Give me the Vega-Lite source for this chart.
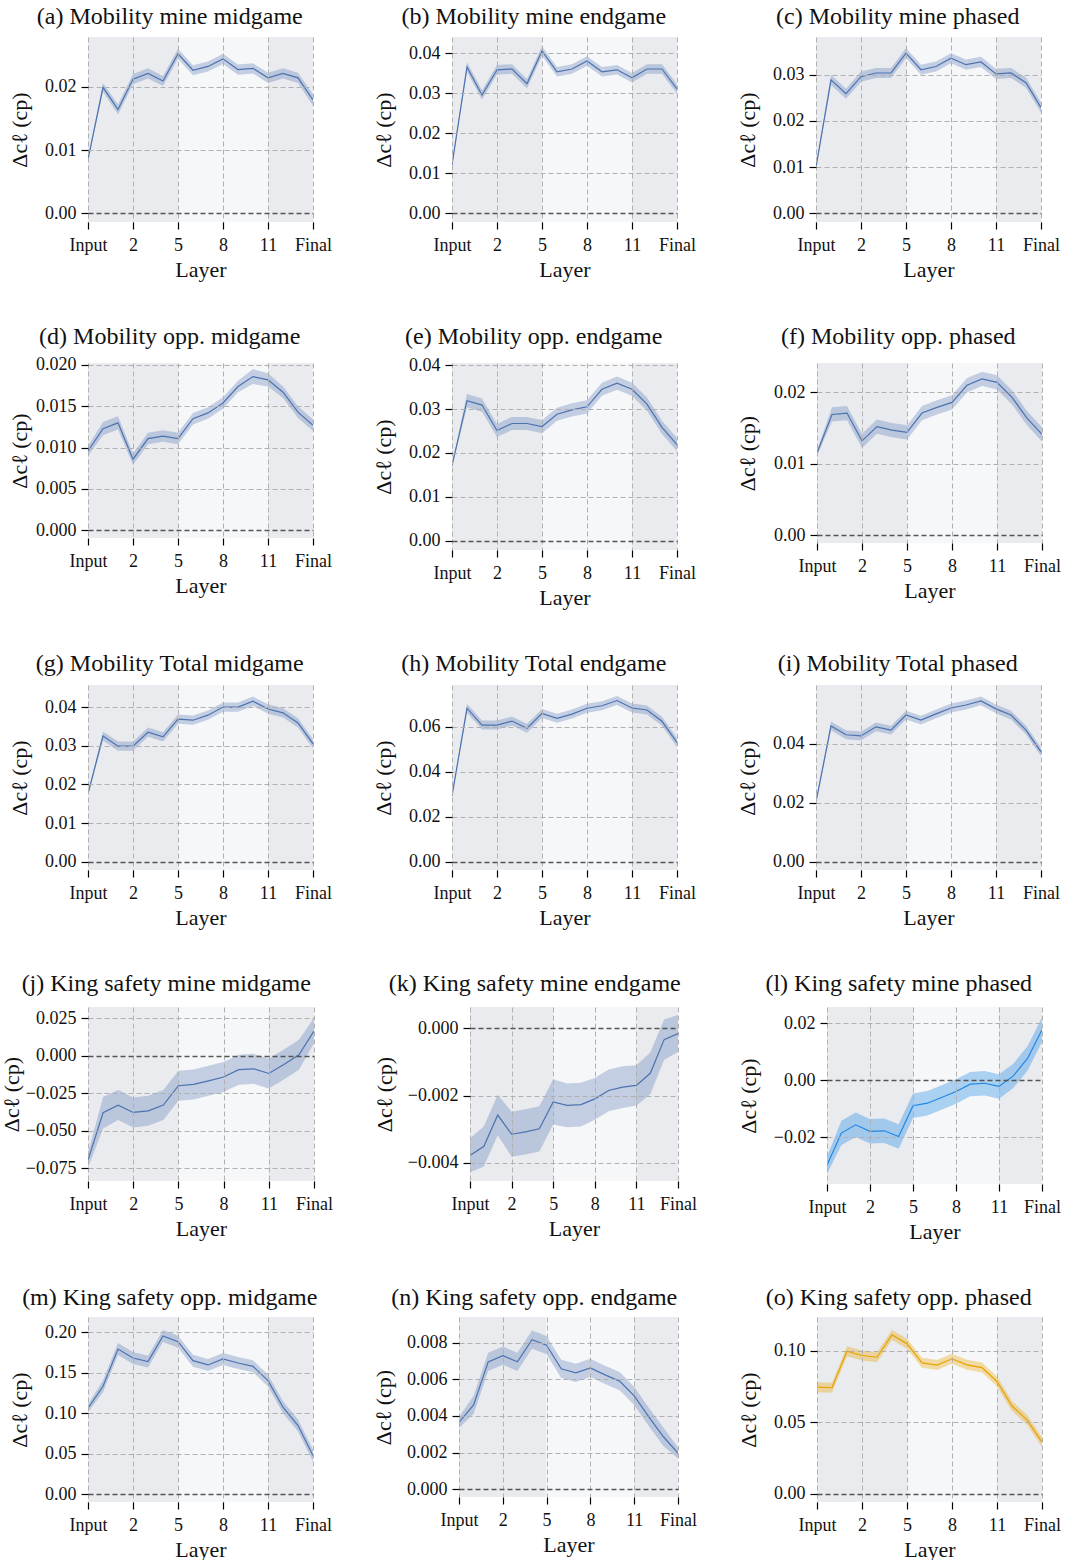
{
"$schema":"https://vega.github.io/schema/vega-lite/v6.json",
"background":"white",
"padding":{"left":0,"top":5,"right":0,"bottom":0},
"datasets":{
"regions":[{"start":0,"end":6,"shade":"dark"},{"start":6,"end":12,"shade":"light"},{"start":12,"end":15,"shade":"dark"}],
"series":[
{"p":"a","x":0,"m":0.00853,"lo":0.00833,"hi":0.00873},{"p":"a","x":1,"m":0.0199,"lo":0.0192,"hi":0.0206},{"p":"a","x":2,"m":0.0164,"lo":0.0156,"hi":0.0172},{"p":"a","x":3,"m":0.0212,"lo":0.0204,"hi":0.022},{"p":"a","x":4,"m":0.0221,"lo":0.0213,"hi":0.0229},{"p":"a","x":5,"m":0.0209,"lo":0.0201,"hi":0.0217},{"p":"a","x":6,"m":0.0252,"lo":0.0244,"hi":0.026},{"p":"a","x":7,"m":0.0226,"lo":0.0218,"hi":0.0234},{"p":"a","x":8,"m":0.0232,"lo":0.0224,"hi":0.024},{"p":"a","x":9,"m":0.0244,"lo":0.0236,"hi":0.0252},{"p":"a","x":10,"m":0.0227,"lo":0.0219,"hi":0.0235},{"p":"a","x":11,"m":0.0229,"lo":0.0221,"hi":0.0237},{"p":"a","x":12,"m":0.0214,"lo":0.0206,"hi":0.0222},{"p":"a","x":13,"m":0.0221,"lo":0.0213,"hi":0.0229},{"p":"a","x":14,"m":0.0214,"lo":0.0206,"hi":0.0222},{"p":"a","x":15,"m":0.0179,"lo":0.017,"hi":0.0188},
{"p":"b","x":0,"m":0.012,"lo":0.0118,"hi":0.0122},{"p":"b","x":1,"m":0.0365,"lo":0.0353,"hi":0.0377},{"p":"b","x":2,"m":0.0295,"lo":0.0283,"hi":0.0307},{"p":"b","x":3,"m":0.0358,"lo":0.0346,"hi":0.037},{"p":"b","x":4,"m":0.036,"lo":0.0348,"hi":0.0372},{"p":"b","x":5,"m":0.0323,"lo":0.0311,"hi":0.0335},{"p":"b","x":6,"m":0.0405,"lo":0.0393,"hi":0.0417},{"p":"b","x":7,"m":0.0353,"lo":0.0341,"hi":0.0365},{"p":"b","x":8,"m":0.036,"lo":0.0348,"hi":0.0372},{"p":"b","x":9,"m":0.038,"lo":0.0368,"hi":0.0392},{"p":"b","x":10,"m":0.0353,"lo":0.0341,"hi":0.0365},{"p":"b","x":11,"m":0.0358,"lo":0.0346,"hi":0.037},{"p":"b","x":12,"m":0.0338,"lo":0.0326,"hi":0.035},{"p":"b","x":13,"m":0.036,"lo":0.0348,"hi":0.0372},{"p":"b","x":14,"m":0.036,"lo":0.0348,"hi":0.0372},{"p":"b","x":15,"m":0.031,"lo":0.0298,"hi":0.0322},
{"p":"c","x":0,"m":0.01,"lo":0.0098,"hi":0.0102},{"p":"c","x":1,"m":0.0289,"lo":0.0278,"hi":0.03},{"p":"c","x":2,"m":0.0259,"lo":0.0248,"hi":0.027},{"p":"c","x":3,"m":0.0296,"lo":0.0285,"hi":0.0307},{"p":"c","x":4,"m":0.0304,"lo":0.0293,"hi":0.0315},{"p":"c","x":5,"m":0.0304,"lo":0.0293,"hi":0.0315},{"p":"c","x":6,"m":0.0347,"lo":0.0336,"hi":0.0358},{"p":"c","x":7,"m":0.0311,"lo":0.03,"hi":0.0322},{"p":"c","x":8,"m":0.0318,"lo":0.0307,"hi":0.0329},{"p":"c","x":9,"m":0.0336,"lo":0.0325,"hi":0.0347},{"p":"c","x":10,"m":0.0322,"lo":0.0311,"hi":0.0333},{"p":"c","x":11,"m":0.0328,"lo":0.0317,"hi":0.0339},{"p":"c","x":12,"m":0.0302,"lo":0.0291,"hi":0.0313},{"p":"c","x":13,"m":0.0304,"lo":0.0293,"hi":0.0315},{"p":"c","x":14,"m":0.0283,"lo":0.0272,"hi":0.0294},{"p":"c","x":15,"m":0.0229,"lo":0.0218,"hi":0.024},
{"p":"d","x":0,"m":0.0096,"lo":0.009,"hi":0.0102},{"p":"d","x":1,"m":0.0123,"lo":0.0115,"hi":0.0131},{"p":"d","x":2,"m":0.013,"lo":0.0122,"hi":0.0138},{"p":"d","x":3,"m":0.0086,"lo":0.0079,"hi":0.0093},{"p":"d","x":4,"m":0.0111,"lo":0.0104,"hi":0.0118},{"p":"d","x":5,"m":0.0114,"lo":0.0107,"hi":0.0121},{"p":"d","x":6,"m":0.0111,"lo":0.0104,"hi":0.0118},{"p":"d","x":7,"m":0.0135,"lo":0.0128,"hi":0.0142},{"p":"d","x":8,"m":0.0142,"lo":0.0135,"hi":0.0149},{"p":"d","x":9,"m":0.0154,"lo":0.0147,"hi":0.0161},{"p":"d","x":10,"m":0.0174,"lo":0.0167,"hi":0.0181},{"p":"d","x":11,"m":0.0186,"lo":0.0177,"hi":0.0195},{"p":"d","x":12,"m":0.0182,"lo":0.0174,"hi":0.019},{"p":"d","x":13,"m":0.0167,"lo":0.016,"hi":0.0174},{"p":"d","x":14,"m":0.0143,"lo":0.0136,"hi":0.015},{"p":"d","x":15,"m":0.0127,"lo":0.012,"hi":0.0134},
{"p":"e","x":0,"m":0.0171,"lo":0.0168,"hi":0.0174},{"p":"e","x":1,"m":0.0319,"lo":0.0304,"hi":0.0334},{"p":"e","x":2,"m":0.0309,"lo":0.0294,"hi":0.0324},{"p":"e","x":3,"m":0.0251,"lo":0.0236,"hi":0.0266},{"p":"e","x":4,"m":0.0267,"lo":0.0252,"hi":0.0282},{"p":"e","x":5,"m":0.0267,"lo":0.0252,"hi":0.0282},{"p":"e","x":6,"m":0.026,"lo":0.0245,"hi":0.0275},{"p":"e","x":7,"m":0.0288,"lo":0.0273,"hi":0.0303},{"p":"e","x":8,"m":0.0298,"lo":0.0283,"hi":0.0313},{"p":"e","x":9,"m":0.0305,"lo":0.029,"hi":0.032},{"p":"e","x":10,"m":0.0345,"lo":0.033,"hi":0.036},{"p":"e","x":11,"m":0.0359,"lo":0.0344,"hi":0.0374},{"p":"e","x":12,"m":0.0345,"lo":0.033,"hi":0.036},{"p":"e","x":13,"m":0.0311,"lo":0.0296,"hi":0.0326},{"p":"e","x":14,"m":0.0258,"lo":0.0243,"hi":0.0273},{"p":"e","x":15,"m":0.0219,"lo":0.0204,"hi":0.0234},
{"p":"f","x":0,"m":0.0115,"lo":0.0111,"hi":0.0119},{"p":"f","x":1,"m":0.0169,"lo":0.0159,"hi":0.0179},{"p":"f","x":2,"m":0.0171,"lo":0.0161,"hi":0.0181},{"p":"f","x":3,"m":0.0132,"lo":0.0122,"hi":0.0142},{"p":"f","x":4,"m":0.0152,"lo":0.0142,"hi":0.0162},{"p":"f","x":5,"m":0.0147,"lo":0.0137,"hi":0.0157},{"p":"f","x":6,"m":0.0144,"lo":0.0134,"hi":0.0154},{"p":"f","x":7,"m":0.0171,"lo":0.0161,"hi":0.0181},{"p":"f","x":8,"m":0.0179,"lo":0.0169,"hi":0.0189},{"p":"f","x":9,"m":0.0186,"lo":0.0176,"hi":0.0196},{"p":"f","x":10,"m":0.021,"lo":0.02,"hi":0.022},{"p":"f","x":11,"m":0.0219,"lo":0.0209,"hi":0.0229},{"p":"f","x":12,"m":0.0214,"lo":0.0204,"hi":0.0224},{"p":"f","x":13,"m":0.0193,"lo":0.0183,"hi":0.0203},{"p":"f","x":14,"m":0.0164,"lo":0.0154,"hi":0.0174},{"p":"f","x":15,"m":0.0141,"lo":0.0131,"hi":0.0151},
{"p":"g","x":0,"m":0.0176,"lo":0.0174,"hi":0.0178},{"p":"g","x":1,"m":0.0325,"lo":0.0313,"hi":0.0337},{"p":"g","x":2,"m":0.0299,"lo":0.0287,"hi":0.0311},{"p":"g","x":3,"m":0.0299,"lo":0.0287,"hi":0.0311},{"p":"g","x":4,"m":0.0335,"lo":0.0323,"hi":0.0347},{"p":"g","x":5,"m":0.0323,"lo":0.0311,"hi":0.0335},{"p":"g","x":6,"m":0.0369,"lo":0.0357,"hi":0.0381},{"p":"g","x":7,"m":0.0366,"lo":0.0354,"hi":0.0378},{"p":"g","x":8,"m":0.0379,"lo":0.0367,"hi":0.0391},{"p":"g","x":9,"m":0.04,"lo":0.0388,"hi":0.0412},{"p":"g","x":10,"m":0.04,"lo":0.0388,"hi":0.0412},{"p":"g","x":11,"m":0.0415,"lo":0.0403,"hi":0.0427},{"p":"g","x":12,"m":0.0395,"lo":0.0383,"hi":0.0407},{"p":"g","x":13,"m":0.0385,"lo":0.0373,"hi":0.0397},{"p":"g","x":14,"m":0.0359,"lo":0.0347,"hi":0.0371},{"p":"g","x":15,"m":0.0305,"lo":0.0293,"hi":0.0317},
{"p":"h","x":0,"m":0.0293,"lo":0.029,"hi":0.0296},{"p":"h","x":1,"m":0.0682,"lo":0.0662,"hi":0.0702},{"p":"h","x":2,"m":0.0607,"lo":0.0587,"hi":0.0627},{"p":"h","x":3,"m":0.0607,"lo":0.0587,"hi":0.0627},{"p":"h","x":4,"m":0.0625,"lo":0.0605,"hi":0.0645},{"p":"h","x":5,"m":0.0593,"lo":0.0573,"hi":0.0613},{"p":"h","x":6,"m":0.0659,"lo":0.0639,"hi":0.0679},{"p":"h","x":7,"m":0.0637,"lo":0.0617,"hi":0.0657},{"p":"h","x":8,"m":0.0656,"lo":0.0636,"hi":0.0676},{"p":"h","x":9,"m":0.0682,"lo":0.0662,"hi":0.0702},{"p":"h","x":10,"m":0.0693,"lo":0.0673,"hi":0.0713},{"p":"h","x":11,"m":0.0716,"lo":0.0696,"hi":0.0736},{"p":"h","x":12,"m":0.0683,"lo":0.0663,"hi":0.0703},{"p":"h","x":13,"m":0.0674,"lo":0.0654,"hi":0.0694},{"p":"h","x":14,"m":0.0624,"lo":0.0604,"hi":0.0644},{"p":"h","x":15,"m":0.053,"lo":0.051,"hi":0.055},
{"p":"i","x":0,"m":0.0203,"lo":0.02,"hi":0.0206},{"p":"i","x":1,"m":0.0461,"lo":0.0446,"hi":0.0476},{"p":"i","x":2,"m":0.0431,"lo":0.0416,"hi":0.0446},{"p":"i","x":3,"m":0.0427,"lo":0.0412,"hi":0.0442},{"p":"i","x":4,"m":0.0458,"lo":0.0443,"hi":0.0473},{"p":"i","x":5,"m":0.0447,"lo":0.0432,"hi":0.0462},{"p":"i","x":6,"m":0.0498,"lo":0.0483,"hi":0.0513},{"p":"i","x":7,"m":0.0481,"lo":0.0466,"hi":0.0496},{"p":"i","x":8,"m":0.0502,"lo":0.0487,"hi":0.0517},{"p":"i","x":9,"m":0.0522,"lo":0.0507,"hi":0.0537},{"p":"i","x":10,"m":0.0532,"lo":0.0517,"hi":0.0547},{"p":"i","x":11,"m":0.0546,"lo":0.0531,"hi":0.0561},{"p":"i","x":12,"m":0.0519,"lo":0.0504,"hi":0.0534},{"p":"i","x":13,"m":0.0498,"lo":0.0483,"hi":0.0513},{"p":"i","x":14,"m":0.0447,"lo":0.0432,"hi":0.0462},{"p":"i","x":15,"m":0.0373,"lo":0.0358,"hi":0.0388},
{"p":"j","x":0,"m":-0.0696,"lo":-0.0746,"hi":-0.0646},{"p":"j","x":1,"m":-0.038,"lo":-0.0485,"hi":-0.0275},{"p":"j","x":2,"m":-0.0329,"lo":-0.0429,"hi":-0.0229},{"p":"j","x":3,"m":-0.0378,"lo":-0.0478,"hi":-0.0278},{"p":"j","x":4,"m":-0.0367,"lo":-0.0467,"hi":-0.0267},{"p":"j","x":5,"m":-0.0329,"lo":-0.0429,"hi":-0.0229},{"p":"j","x":6,"m":-0.02,"lo":-0.03,"hi":-0.01},{"p":"j","x":7,"m":-0.0191,"lo":-0.0291,"hi":-0.0091},{"p":"j","x":8,"m":-0.0167,"lo":-0.0267,"hi":-0.0067},{"p":"j","x":9,"m":-0.0142,"lo":-0.0242,"hi":-0.0042},{"p":"j","x":10,"m":-0.0093,"lo":-0.0193,"hi":0.0007},{"p":"j","x":11,"m":-0.0087,"lo":-0.0187,"hi":0.0013},{"p":"j","x":12,"m":-0.0118,"lo":-0.0218,"hi":-0.0018},{"p":"j","x":13,"m":-0.0058,"lo":-0.0158,"hi":0.0042},{"p":"j","x":14,"m":0.0007,"lo":-0.0093,"hi":0.0107},{"p":"j","x":15,"m":0.0164,"lo":0.0084,"hi":0.0254},
{"p":"k","x":0,"m":-0.00378,"lo":-0.00428,"hi":-0.00328},{"p":"k","x":1,"m":-0.00351,"lo":-0.00411,"hi":-0.00291},{"p":"k","x":2,"m":-0.00258,"lo":-0.00318,"hi":-0.00198},{"p":"k","x":3,"m":-0.00315,"lo":-0.00382,"hi":-0.00248},{"p":"k","x":4,"m":-0.00308,"lo":-0.00375,"hi":-0.00241},{"p":"k","x":5,"m":-0.00299,"lo":-0.00366,"hi":-0.00232},{"p":"k","x":6,"m":-0.00219,"lo":-0.00286,"hi":-0.00152},{"p":"k","x":7,"m":-0.00229,"lo":-0.00294,"hi":-0.00164},{"p":"k","x":8,"m":-0.00227,"lo":-0.00292,"hi":-0.00162},{"p":"k","x":9,"m":-0.0021,"lo":-0.00272,"hi":-0.00148},{"p":"k","x":10,"m":-0.00185,"lo":-0.00247,"hi":-0.00123},{"p":"k","x":11,"m":-0.00175,"lo":-0.00237,"hi":-0.00113},{"p":"k","x":12,"m":-0.0017,"lo":-0.0023,"hi":-0.0011},{"p":"k","x":13,"m":-0.00134,"lo":-0.00196,"hi":-0.00072},{"p":"k","x":14,"m":-0.00034,"lo":-0.00094,"hi":0.00026},{"p":"k","x":15,"m":-0.00016,"lo":-0.00071,"hi":0.00039},
{"p":"l","x":0,"m":-0.0299,"lo":-0.0329,"hi":-0.0269},{"p":"l","x":1,"m":-0.0186,"lo":-0.0229,"hi":-0.0143},{"p":"l","x":2,"m":-0.0157,"lo":-0.02,"hi":-0.0114},{"p":"l","x":3,"m":-0.018,"lo":-0.0223,"hi":-0.0137},{"p":"l","x":4,"m":-0.0178,"lo":-0.0221,"hi":-0.0135},{"p":"l","x":5,"m":-0.0198,"lo":-0.0241,"hi":-0.0155},{"p":"l","x":6,"m":-0.009,"lo":-0.0133,"hi":-0.0047},{"p":"l","x":7,"m":-0.0081,"lo":-0.0124,"hi":-0.0038},{"p":"l","x":8,"m":-0.0061,"lo":-0.0104,"hi":-0.0018},{"p":"l","x":9,"m":-0.004,"lo":-0.0083,"hi":0.0003},{"p":"l","x":10,"m":-0.0014,"lo":-0.0057,"hi":0.0029},{"p":"l","x":11,"m":-0.0011,"lo":-0.0054,"hi":0.0032},{"p":"l","x":12,"m":-0.0022,"lo":-0.0065,"hi":0.0021},{"p":"l","x":13,"m":0.0015,"lo":-0.0028,"hi":0.0058},{"p":"l","x":14,"m":0.0077,"lo":0.0034,"hi":0.012},{"p":"l","x":15,"m":0.0177,"lo":0.0134,"hi":0.022},
{"p":"m","x":0,"m":0.1062,"lo":0.1012,"hi":0.1112},{"p":"m","x":1,"m":0.1333,"lo":0.1259,"hi":0.1407},{"p":"m","x":2,"m":0.1794,"lo":0.172,"hi":0.1868},{"p":"m","x":3,"m":0.1683,"lo":0.1609,"hi":0.1757},{"p":"m","x":4,"m":0.1638,"lo":0.1564,"hi":0.1712},{"p":"m","x":5,"m":0.1955,"lo":0.1881,"hi":0.2029},{"p":"m","x":6,"m":0.1885,"lo":0.1811,"hi":0.1959},{"p":"m","x":7,"m":0.165,"lo":0.1576,"hi":0.1724},{"p":"m","x":8,"m":0.1597,"lo":0.1523,"hi":0.1671},{"p":"m","x":9,"m":0.1671,"lo":0.1597,"hi":0.1745},{"p":"m","x":10,"m":0.1621,"lo":0.1547,"hi":0.1695},{"p":"m","x":11,"m":0.158,"lo":0.1506,"hi":0.1654},{"p":"m","x":12,"m":0.1403,"lo":0.1329,"hi":0.1477},{"p":"m","x":13,"m":0.1074,"lo":0.1,"hi":0.1148},{"p":"m","x":14,"m":0.0848,"lo":0.0774,"hi":0.0922},{"p":"m","x":15,"m":0.0477,"lo":0.0403,"hi":0.0551},
{"p":"n","x":0,"m":0.00364,"lo":0.00334,"hi":0.00394},{"p":"n","x":1,"m":0.0046,"lo":0.0041,"hi":0.0051},{"p":"n","x":2,"m":0.00695,"lo":0.00645,"hi":0.00745},{"p":"n","x":3,"m":0.00729,"lo":0.00679,"hi":0.00779},{"p":"n","x":4,"m":0.00695,"lo":0.00645,"hi":0.00745},{"p":"n","x":5,"m":0.00816,"lo":0.00766,"hi":0.00866},{"p":"n","x":6,"m":0.00786,"lo":0.00736,"hi":0.00836},{"p":"n","x":7,"m":0.00657,"lo":0.00607,"hi":0.00707},{"p":"n","x":8,"m":0.00635,"lo":0.00585,"hi":0.00685},{"p":"n","x":9,"m":0.00662,"lo":0.00612,"hi":0.00712},{"p":"n","x":10,"m":0.00624,"lo":0.00574,"hi":0.00674},{"p":"n","x":11,"m":0.0059,"lo":0.0054,"hi":0.0064},{"p":"n","x":12,"m":0.00509,"lo":0.00459,"hi":0.00559},{"p":"n","x":13,"m":0.00395,"lo":0.00345,"hi":0.00445},{"p":"n","x":14,"m":0.00286,"lo":0.00236,"hi":0.00336},{"p":"n","x":15,"m":0.00197,"lo":0.00167,"hi":0.00227},
{"p":"o","x":0,"m":0.0744,"lo":0.0709,"hi":0.0779},{"p":"o","x":1,"m":0.074,"lo":0.0705,"hi":0.0775},{"p":"o","x":2,"m":0.0995,"lo":0.096,"hi":0.103},{"p":"o","x":3,"m":0.0965,"lo":0.093,"hi":0.1},{"p":"o","x":4,"m":0.0953,"lo":0.0918,"hi":0.0988},{"p":"o","x":5,"m":0.1109,"lo":0.1074,"hi":0.1144},{"p":"o","x":6,"m":0.1047,"lo":0.1012,"hi":0.1082},{"p":"o","x":7,"m":0.0914,"lo":0.0879,"hi":0.0949},{"p":"o","x":8,"m":0.0898,"lo":0.0863,"hi":0.0933},{"p":"o","x":9,"m":0.0942,"lo":0.0907,"hi":0.0977},{"p":"o","x":10,"m":0.09,"lo":0.0865,"hi":0.0935},{"p":"o","x":11,"m":0.0881,"lo":0.0846,"hi":0.0916},{"p":"o","x":12,"m":0.0784,"lo":0.0749,"hi":0.0819},{"p":"o","x":13,"m":0.0612,"lo":0.0577,"hi":0.0647},{"p":"o","x":14,"m":0.0516,"lo":0.0481,"hi":0.0551},{"p":"o","x":15,"m":0.036,"lo":0.0325,"hi":0.0395}
]},
"columns":1,
"align":"none",
"spacing":44,
"concat":[
{"spacing":40,"hconcat":[
{"width":225,"height":185,"title":{"text":"(a) Mobility mine midgame","offset":8},"layer":[
{"data":{"name":"regions"},"mark":"rect","encoding":{"x":{"field":"start","type":"quantitative","title":"Layer","scale":{"domain":[0,15],"nice":false,"zero":false},"axis":{"zindex":1,"values":[0,3,6,9,12,15],"labelExpr":"datum.value == 0 ? 'Input' : datum.value == 15 ? 'Final' : '' + (datum.value - 1)"}},"x2":{"field":"end"},"color":{"field":"shade","type":"nominal","scale":{"domain":["dark","light"],"range":["#eaebee","#f6f7f9"]},"legend":null}}},
{"data":{"name":"series"},"transform":[{"filter":"datum.p == 'a'"}],"mark":{"type":"area","color":"#4c72b0","opacity":0.3,"clip":true},"encoding":{"x":{"field":"x","type":"quantitative","title":"Layer"},"y":{"field":"lo","type":"quantitative","title":"Δcℓ (cp)","scale":{"domain":[-0.00137,0.02785],"nice":false,"zero":false},"axis":{"zindex":1,"values":[0,0.01,0.02],"format":".2f","minExtent":55,"maxExtent":55,"gridColor":{"condition":{"test":"datum.value === 0","value":"#555555"},"value":"#b0b0b0"},"gridWidth":{"condition":{"test":"datum.value === 0","value":1.4},"value":1}}},"y2":{"field":"hi"}}},
{"data":{"name":"series"},"transform":[{"filter":"datum.p == 'a'"}],"mark":{"type":"line","color":"#4c72b0","strokeWidth":1.2,"clip":true},"encoding":{"x":{"field":"x","type":"quantitative","title":"Layer"},"y":{"field":"m","type":"quantitative","title":"Δcℓ (cp)"}}}]},
{"width":225,"height":185,"title":{"text":"(b) Mobility mine endgame","offset":8},"layer":[
{"data":{"name":"regions"},"mark":"rect","encoding":{"x":{"field":"start","type":"quantitative","title":"Layer","scale":{"domain":[0,15],"nice":false,"zero":false},"axis":{"zindex":1,"values":[0,3,6,9,12,15],"labelExpr":"datum.value == 0 ? 'Input' : datum.value == 15 ? 'Final' : '' + (datum.value - 1)"}},"x2":{"field":"end"},"color":{"field":"shade","type":"nominal","scale":{"domain":["dark","light"],"range":["#eaebee","#f6f7f9"]},"legend":null}}},
{"data":{"name":"series"},"transform":[{"filter":"datum.p == 'b'"}],"mark":{"type":"area","color":"#4c72b0","opacity":0.3,"clip":true},"encoding":{"x":{"field":"x","type":"quantitative","title":"Layer"},"y":{"field":"lo","type":"quantitative","title":"Δcℓ (cp)","scale":{"domain":[-0.00225,0.044],"nice":false,"zero":false},"axis":{"zindex":1,"values":[0,0.01,0.02,0.03,0.04],"format":".2f","minExtent":55,"maxExtent":55,"gridColor":{"condition":{"test":"datum.value === 0","value":"#555555"},"value":"#b0b0b0"},"gridWidth":{"condition":{"test":"datum.value === 0","value":1.4},"value":1}}},"y2":{"field":"hi"}}},
{"data":{"name":"series"},"transform":[{"filter":"datum.p == 'b'"}],"mark":{"type":"line","color":"#4c72b0","strokeWidth":1.2,"clip":true},"encoding":{"x":{"field":"x","type":"quantitative","title":"Layer"},"y":{"field":"m","type":"quantitative","title":"Δcℓ (cp)"}}}]},
{"width":225,"height":185,"title":{"text":"(c) Mobility mine phased","offset":8},"layer":[
{"data":{"name":"regions"},"mark":"rect","encoding":{"x":{"field":"start","type":"quantitative","title":"Layer","scale":{"domain":[0,15],"nice":false,"zero":false},"axis":{"zindex":1,"values":[0,3,6,9,12,15],"labelExpr":"datum.value == 0 ? 'Input' : datum.value == 15 ? 'Final' : '' + (datum.value - 1)"}},"x2":{"field":"end"},"color":{"field":"shade","type":"nominal","scale":{"domain":["dark","light"],"range":["#eaebee","#f6f7f9"]},"legend":null}}},
{"data":{"name":"series"},"transform":[{"filter":"datum.p == 'c'"}],"mark":{"type":"area","color":"#4c72b0","opacity":0.3,"clip":true},"encoding":{"x":{"field":"x","type":"quantitative","title":"Layer"},"y":{"field":"lo","type":"quantitative","title":"Δcℓ (cp)","scale":{"domain":[-0.0019,0.0382],"nice":false,"zero":false},"axis":{"zindex":1,"values":[0,0.01,0.02,0.03],"format":".2f","minExtent":55,"maxExtent":55,"gridColor":{"condition":{"test":"datum.value === 0","value":"#555555"},"value":"#b0b0b0"},"gridWidth":{"condition":{"test":"datum.value === 0","value":1.4},"value":1}}},"y2":{"field":"hi"}}},
{"data":{"name":"series"},"transform":[{"filter":"datum.p == 'c'"}],"mark":{"type":"line","color":"#4c72b0","strokeWidth":1.2,"clip":true},"encoding":{"x":{"field":"x","type":"quantitative","title":"Layer"},"y":{"field":"m","type":"quantitative","title":"Δcℓ (cp)"}}}]}
]},
{"spacing":40,"hconcat":[
{"width":225,"height":175,"title":{"text":"(d) Mobility opp. midgame","offset":7},"layer":[
{"data":{"name":"regions"},"mark":"rect","encoding":{"x":{"field":"start","type":"quantitative","title":"Layer","scale":{"domain":[0,15],"nice":false,"zero":false},"axis":{"zindex":1,"values":[0,3,6,9,12,15],"labelExpr":"datum.value == 0 ? 'Input' : datum.value == 15 ? 'Final' : '' + (datum.value - 1)"}},"x2":{"field":"end"},"color":{"field":"shade","type":"nominal","scale":{"domain":["dark","light"],"range":["#eaebee","#f6f7f9"]},"legend":null}}},
{"data":{"name":"series"},"transform":[{"filter":"datum.p == 'd'"}],"mark":{"type":"area","color":"#4c72b0","opacity":0.3,"clip":true},"encoding":{"x":{"field":"x","type":"quantitative","title":"Layer"},"y":{"field":"lo","type":"quantitative","title":"Δcℓ (cp)","scale":{"domain":[-0.00093,0.02024],"nice":false,"zero":false},"axis":{"zindex":1,"values":[0,0.005,0.01,0.015,0.02],"format":".3f","minExtent":55,"maxExtent":55,"gridColor":{"condition":{"test":"datum.value === 0","value":"#555555"},"value":"#b0b0b0"},"gridWidth":{"condition":{"test":"datum.value === 0","value":1.4},"value":1}}},"y2":{"field":"hi"}}},
{"data":{"name":"series"},"transform":[{"filter":"datum.p == 'd'"}],"mark":{"type":"line","color":"#4c72b0","strokeWidth":1.2,"clip":true},"encoding":{"x":{"field":"x","type":"quantitative","title":"Layer"},"y":{"field":"m","type":"quantitative","title":"Δcℓ (cp)"}}}]},
{"width":225,"height":187,"title":{"text":"(e) Mobility opp. endgame","offset":7},"layer":[
{"data":{"name":"regions"},"mark":"rect","encoding":{"x":{"field":"start","type":"quantitative","title":"Layer","scale":{"domain":[0,15],"nice":false,"zero":false},"axis":{"zindex":1,"values":[0,3,6,9,12,15],"labelExpr":"datum.value == 0 ? 'Input' : datum.value == 15 ? 'Final' : '' + (datum.value - 1)"}},"x2":{"field":"end"},"color":{"field":"shade","type":"nominal","scale":{"domain":["dark","light"],"range":["#eaebee","#f6f7f9"]},"legend":null}}},
{"data":{"name":"series"},"transform":[{"filter":"datum.p == 'e'"}],"mark":{"type":"area","color":"#4c72b0","opacity":0.3,"clip":true},"encoding":{"x":{"field":"x","type":"quantitative","title":"Layer"},"y":{"field":"lo","type":"quantitative","title":"Δcℓ (cp)","scale":{"domain":[-0.00212,0.04048],"nice":false,"zero":false},"axis":{"zindex":1,"values":[0,0.01,0.02,0.03,0.04],"format":".2f","minExtent":55,"maxExtent":55,"gridColor":{"condition":{"test":"datum.value === 0","value":"#555555"},"value":"#b0b0b0"},"gridWidth":{"condition":{"test":"datum.value === 0","value":1.4},"value":1}}},"y2":{"field":"hi"}}},
{"data":{"name":"series"},"transform":[{"filter":"datum.p == 'e'"}],"mark":{"type":"line","color":"#4c72b0","strokeWidth":1.2,"clip":true},"encoding":{"x":{"field":"x","type":"quantitative","title":"Layer"},"y":{"field":"m","type":"quantitative","title":"Δcℓ (cp)"}}}]},
{"width":225,"height":180,"title":{"text":"(f) Mobility opp. phased","offset":14},"layer":[
{"data":{"name":"regions"},"mark":"rect","encoding":{"x":{"field":"start","type":"quantitative","title":"Layer","scale":{"domain":[0,15],"nice":false,"zero":false},"axis":{"zindex":1,"values":[0,3,6,9,12,15],"labelExpr":"datum.value == 0 ? 'Input' : datum.value == 15 ? 'Final' : '' + (datum.value - 1)"}},"x2":{"field":"end"},"color":{"field":"shade","type":"nominal","scale":{"domain":["dark","light"],"range":["#eaebee","#f6f7f9"]},"legend":null}}},
{"data":{"name":"series"},"transform":[{"filter":"datum.p == 'f'"}],"mark":{"type":"area","color":"#4c72b0","opacity":0.3,"clip":true},"encoding":{"x":{"field":"x","type":"quantitative","title":"Layer"},"y":{"field":"lo","type":"quantitative","title":"Δcℓ (cp)","scale":{"domain":[-0.00112,0.02412],"nice":false,"zero":false},"axis":{"zindex":1,"values":[0,0.01,0.02],"format":".2f","minExtent":56,"maxExtent":56,"gridColor":{"condition":{"test":"datum.value === 0","value":"#555555"},"value":"#b0b0b0"},"gridWidth":{"condition":{"test":"datum.value === 0","value":1.4},"value":1}}},"y2":{"field":"hi"}}},
{"data":{"name":"series"},"transform":[{"filter":"datum.p == 'f'"}],"mark":{"type":"line","color":"#4c72b0","strokeWidth":1.2,"clip":true},"encoding":{"x":{"field":"x","type":"quantitative","title":"Layer"},"y":{"field":"m","type":"quantitative","title":"Δcℓ (cp)"}}}]}
]},
{"spacing":40,"hconcat":[
{"width":225,"height":185,"title":{"text":"(g) Mobility Total midgame","offset":9},"layer":[
{"data":{"name":"regions"},"mark":"rect","encoding":{"x":{"field":"start","type":"quantitative","title":"Layer","scale":{"domain":[0,15],"nice":false,"zero":false},"axis":{"zindex":1,"values":[0,3,6,9,12,15],"labelExpr":"datum.value == 0 ? 'Input' : datum.value == 15 ? 'Final' : '' + (datum.value - 1)"}},"x2":{"field":"end"},"color":{"field":"shade","type":"nominal","scale":{"domain":["dark","light"],"range":["#eaebee","#f6f7f9"]},"legend":null}}},
{"data":{"name":"series"},"transform":[{"filter":"datum.p == 'g'"}],"mark":{"type":"area","color":"#4c72b0","opacity":0.3,"clip":true},"encoding":{"x":{"field":"x","type":"quantitative","title":"Layer"},"y":{"field":"lo","type":"quantitative","title":"Δcℓ (cp)","scale":{"domain":[-0.0021,0.0457],"nice":false,"zero":false},"axis":{"zindex":1,"values":[0,0.01,0.02,0.03,0.04],"format":".2f","minExtent":55,"maxExtent":55,"gridColor":{"condition":{"test":"datum.value === 0","value":"#555555"},"value":"#b0b0b0"},"gridWidth":{"condition":{"test":"datum.value === 0","value":1.4},"value":1}}},"y2":{"field":"hi"}}},
{"data":{"name":"series"},"transform":[{"filter":"datum.p == 'g'"}],"mark":{"type":"line","color":"#4c72b0","strokeWidth":1.2,"clip":true},"encoding":{"x":{"field":"x","type":"quantitative","title":"Layer"},"y":{"field":"m","type":"quantitative","title":"Δcℓ (cp)"}}}]},
{"width":225,"height":185,"title":{"text":"(h) Mobility Total endgame","offset":9},"layer":[
{"data":{"name":"regions"},"mark":"rect","encoding":{"x":{"field":"start","type":"quantitative","title":"Layer","scale":{"domain":[0,15],"nice":false,"zero":false},"axis":{"zindex":1,"values":[0,3,6,9,12,15],"labelExpr":"datum.value == 0 ? 'Input' : datum.value == 15 ? 'Final' : '' + (datum.value - 1)"}},"x2":{"field":"end"},"color":{"field":"shade","type":"nominal","scale":{"domain":["dark","light"],"range":["#eaebee","#f6f7f9"]},"legend":null}}},
{"data":{"name":"series"},"transform":[{"filter":"datum.p == 'h'"}],"mark":{"type":"area","color":"#4c72b0","opacity":0.3,"clip":true},"encoding":{"x":{"field":"x","type":"quantitative","title":"Layer"},"y":{"field":"lo","type":"quantitative","title":"Δcℓ (cp)","scale":{"domain":[-0.0036,0.0785],"nice":false,"zero":false},"axis":{"zindex":1,"values":[0,0.02,0.04,0.06],"format":".2f","minExtent":55,"maxExtent":55,"gridColor":{"condition":{"test":"datum.value === 0","value":"#555555"},"value":"#b0b0b0"},"gridWidth":{"condition":{"test":"datum.value === 0","value":1.4},"value":1}}},"y2":{"field":"hi"}}},
{"data":{"name":"series"},"transform":[{"filter":"datum.p == 'h'"}],"mark":{"type":"line","color":"#4c72b0","strokeWidth":1.2,"clip":true},"encoding":{"x":{"field":"x","type":"quantitative","title":"Layer"},"y":{"field":"m","type":"quantitative","title":"Δcℓ (cp)"}}}]},
{"width":225,"height":185,"title":{"text":"(i) Mobility Total phased","offset":9},"layer":[
{"data":{"name":"regions"},"mark":"rect","encoding":{"x":{"field":"start","type":"quantitative","title":"Layer","scale":{"domain":[0,15],"nice":false,"zero":false},"axis":{"zindex":1,"values":[0,3,6,9,12,15],"labelExpr":"datum.value == 0 ? 'Input' : datum.value == 15 ? 'Final' : '' + (datum.value - 1)"}},"x2":{"field":"end"},"color":{"field":"shade","type":"nominal","scale":{"domain":["dark","light"],"range":["#eaebee","#f6f7f9"]},"legend":null}}},
{"data":{"name":"series"},"transform":[{"filter":"datum.p == 'i'"}],"mark":{"type":"area","color":"#4c72b0","opacity":0.3,"clip":true},"encoding":{"x":{"field":"x","type":"quantitative","title":"Layer"},"y":{"field":"lo","type":"quantitative","title":"Δcℓ (cp)","scale":{"domain":[-0.0028,0.06],"nice":false,"zero":false},"axis":{"zindex":1,"values":[0,0.02,0.04],"format":".2f","minExtent":55,"maxExtent":55,"gridColor":{"condition":{"test":"datum.value === 0","value":"#555555"},"value":"#b0b0b0"},"gridWidth":{"condition":{"test":"datum.value === 0","value":1.4},"value":1}}},"y2":{"field":"hi"}}},
{"data":{"name":"series"},"transform":[{"filter":"datum.p == 'i'"}],"mark":{"type":"line","color":"#4c72b0","strokeWidth":1.2,"clip":true},"encoding":{"x":{"field":"x","type":"quantitative","title":"Layer"},"y":{"field":"m","type":"quantitative","title":"Δcℓ (cp)"}}}]}
]},
{"spacing":40,"hconcat":[
{"width":226,"height":174,"title":{"text":"(j) King safety mine midgame","offset":11},"layer":[
{"data":{"name":"regions"},"mark":"rect","encoding":{"x":{"field":"start","type":"quantitative","title":"Layer","scale":{"domain":[0,15],"nice":false,"zero":false},"axis":{"zindex":1,"values":[0,3,6,9,12,15],"labelExpr":"datum.value == 0 ? 'Input' : datum.value == 15 ? 'Final' : '' + (datum.value - 1)"}},"x2":{"field":"end"},"color":{"field":"shade","type":"nominal","scale":{"domain":["dark","light"],"range":["#eaebee","#f6f7f9"]},"legend":null}}},
{"data":{"name":"series"},"transform":[{"filter":"datum.p == 'j'"}],"mark":{"type":"area","color":"#4c72b0","opacity":0.3,"clip":true},"encoding":{"x":{"field":"x","type":"quantitative","title":"Layer"},"y":{"field":"lo","type":"quantitative","title":"Δcℓ (cp)","scale":{"domain":[-0.0835,0.0325],"nice":false,"zero":false},"axis":{"zindex":1,"values":[-0.075,-0.05,-0.025,0,0.025],"format":".3f","minExtent":63,"maxExtent":63,"gridColor":{"condition":{"test":"datum.value === 0","value":"#555555"},"value":"#b0b0b0"},"gridWidth":{"condition":{"test":"datum.value === 0","value":1.4},"value":1}}},"y2":{"field":"hi"}}},
{"data":{"name":"series"},"transform":[{"filter":"datum.p == 'j'"}],"mark":{"type":"line","color":"#4c72b0","strokeWidth":1.2,"clip":true},"encoding":{"x":{"field":"x","type":"quantitative","title":"Layer"},"y":{"field":"m","type":"quantitative","title":"Δcℓ (cp)"}}}]},
{"width":208,"height":174,"title":{"text":"(k) King safety mine endgame","offset":11},"layer":[
{"data":{"name":"regions"},"mark":"rect","encoding":{"x":{"field":"start","type":"quantitative","title":"Layer","scale":{"domain":[0,15],"nice":false,"zero":false},"axis":{"zindex":1,"values":[0,3,6,9,12,15],"labelExpr":"datum.value == 0 ? 'Input' : datum.value == 15 ? 'Final' : '' + (datum.value - 1)"}},"x2":{"field":"end"},"color":{"field":"shade","type":"nominal","scale":{"domain":["dark","light"],"range":["#eaebee","#f6f7f9"]},"legend":null}}},
{"data":{"name":"series"},"transform":[{"filter":"datum.p == 'k'"}],"mark":{"type":"area","color":"#4c72b0","opacity":0.3,"clip":true},"encoding":{"x":{"field":"x","type":"quantitative","title":"Layer"},"y":{"field":"lo","type":"quantitative","title":"Δcℓ (cp)","scale":{"domain":[-0.00454,0.00063],"nice":false,"zero":false},"axis":{"zindex":1,"values":[-0.004,-0.002,0],"format":".3f","minExtent":72,"maxExtent":72,"gridColor":{"condition":{"test":"datum.value === 0","value":"#555555"},"value":"#b0b0b0"},"gridWidth":{"condition":{"test":"datum.value === 0","value":1.4},"value":1}}},"y2":{"field":"hi"}}},
{"data":{"name":"series"},"transform":[{"filter":"datum.p == 'k'"}],"mark":{"type":"line","color":"#4c72b0","strokeWidth":1.2,"clip":true},"encoding":{"x":{"field":"x","type":"quantitative","title":"Layer"},"y":{"field":"m","type":"quantitative","title":"Δcℓ (cp)"}}}]},
{"width":215,"height":177,"title":{"text":"(l) King safety mine phased","offset":11},"layer":[
{"data":{"name":"regions"},"mark":"rect","encoding":{"x":{"field":"start","type":"quantitative","title":"Layer","scale":{"domain":[0,15],"nice":false,"zero":false},"axis":{"zindex":1,"values":[0,3,6,9,12,15],"labelExpr":"datum.value == 0 ? 'Input' : datum.value == 15 ? 'Final' : '' + (datum.value - 1)"}},"x2":{"field":"end"},"color":{"field":"shade","type":"nominal","scale":{"domain":["dark","light"],"range":["#eaebee","#f6f7f9"]},"legend":null}}},
{"data":{"name":"series"},"transform":[{"filter":"datum.p == 'l'"}],"mark":{"type":"area","color":"#1e88e5","opacity":0.35,"clip":true},"encoding":{"x":{"field":"x","type":"quantitative","title":"Layer"},"y":{"field":"lo","type":"quantitative","title":"Δcℓ (cp)","scale":{"domain":[-0.0365,0.0257],"nice":false,"zero":false},"axis":{"zindex":1,"values":[-0.02,0,0.02],"format":".2f","minExtent":65,"maxExtent":65,"gridColor":{"condition":{"test":"datum.value === 0","value":"#555555"},"value":"#b0b0b0"},"gridWidth":{"condition":{"test":"datum.value === 0","value":1.4},"value":1}}},"y2":{"field":"hi"}}},
{"data":{"name":"series"},"transform":[{"filter":"datum.p == 'l'"}],"mark":{"type":"line","color":"#1e88e5","strokeWidth":1.2,"clip":true},"encoding":{"x":{"field":"x","type":"quantitative","title":"Layer"},"y":{"field":"m","type":"quantitative","title":"Δcℓ (cp)"}}}]}
]},
{"spacing":40,"hconcat":[
{"width":225,"height":185,"title":{"text":"(m) King safety opp. midgame","offset":7},"layer":[
{"data":{"name":"regions"},"mark":"rect","encoding":{"x":{"field":"start","type":"quantitative","title":"Layer","scale":{"domain":[0,15],"nice":false,"zero":false},"axis":{"zindex":1,"values":[0,3,6,9,12,15],"labelExpr":"datum.value == 0 ? 'Input' : datum.value == 15 ? 'Final' : '' + (datum.value - 1)"}},"x2":{"field":"end"},"color":{"field":"shade","type":"nominal","scale":{"domain":["dark","light"],"range":["#eaebee","#f6f7f9"]},"legend":null}}},
{"data":{"name":"series"},"transform":[{"filter":"datum.p == 'm'"}],"mark":{"type":"area","color":"#4c72b0","opacity":0.3,"clip":true},"encoding":{"x":{"field":"x","type":"quantitative","title":"Layer"},"y":{"field":"lo","type":"quantitative","title":"Δcℓ (cp)","scale":{"domain":[-0.0098,0.219],"nice":false,"zero":false},"axis":{"zindex":1,"values":[0,0.05,0.1,0.15,0.2],"format":".2f","minExtent":55,"maxExtent":55,"gridColor":{"condition":{"test":"datum.value === 0","value":"#555555"},"value":"#b0b0b0"},"gridWidth":{"condition":{"test":"datum.value === 0","value":1.4},"value":1}}},"y2":{"field":"hi"}}},
{"data":{"name":"series"},"transform":[{"filter":"datum.p == 'm'"}],"mark":{"type":"line","color":"#4c72b0","strokeWidth":1.2,"clip":true},"encoding":{"x":{"field":"x","type":"quantitative","title":"Layer"},"y":{"field":"m","type":"quantitative","title":"Δcℓ (cp)"}}}]},
{"width":219,"height":180,"title":{"text":"(n) King safety opp. endgame","offset":7},"layer":[
{"data":{"name":"regions"},"mark":"rect","encoding":{"x":{"field":"start","type":"quantitative","title":"Layer","scale":{"domain":[0,15],"nice":false,"zero":false},"axis":{"zindex":1,"values":[0,3,6,9,12,15],"labelExpr":"datum.value == 0 ? 'Input' : datum.value == 15 ? 'Final' : '' + (datum.value - 1)"}},"x2":{"field":"end"},"color":{"field":"shade","type":"nominal","scale":{"domain":["dark","light"],"range":["#eaebee","#f6f7f9"]},"legend":null}}},
{"data":{"name":"series"},"transform":[{"filter":"datum.p == 'n'"}],"mark":{"type":"area","color":"#4c72b0","opacity":0.3,"clip":true},"encoding":{"x":{"field":"x","type":"quantitative","title":"Layer"},"y":{"field":"lo","type":"quantitative","title":"Δcℓ (cp)","scale":{"domain":[-0.00043,0.0094],"nice":false,"zero":false},"axis":{"zindex":1,"values":[0,0.002,0.004,0.006,0.008],"format":".3f","minExtent":62,"maxExtent":62,"gridColor":{"condition":{"test":"datum.value === 0","value":"#555555"},"value":"#b0b0b0"},"gridWidth":{"condition":{"test":"datum.value === 0","value":1.4},"value":1}}},"y2":{"field":"hi"}}},
{"data":{"name":"series"},"transform":[{"filter":"datum.p == 'n'"}],"mark":{"type":"line","color":"#4c72b0","strokeWidth":1.2,"clip":true},"encoding":{"x":{"field":"x","type":"quantitative","title":"Layer"},"y":{"field":"m","type":"quantitative","title":"Δcℓ (cp)"}}}]},
{"width":225,"height":185,"title":{"text":"(o) King safety opp. phased","offset":7},"layer":[
{"data":{"name":"regions"},"mark":"rect","encoding":{"x":{"field":"start","type":"quantitative","title":"Layer","scale":{"domain":[0,15],"nice":false,"zero":false},"axis":{"zindex":1,"values":[0,3,6,9,12,15],"labelExpr":"datum.value == 0 ? 'Input' : datum.value == 15 ? 'Final' : '' + (datum.value - 1)"}},"x2":{"field":"end"},"color":{"field":"shade","type":"nominal","scale":{"domain":["dark","light"],"range":["#eaebee","#f6f7f9"]},"legend":null}}},
{"data":{"name":"series"},"transform":[{"filter":"datum.p == 'o'"}],"mark":{"type":"area","color":"#e8a202","opacity":0.35,"clip":true},"encoding":{"x":{"field":"x","type":"quantitative","title":"Layer"},"y":{"field":"lo","type":"quantitative","title":"Δcℓ (cp)","scale":{"domain":[-0.0058,0.1234],"nice":false,"zero":false},"axis":{"zindex":1,"values":[0,0.05,0.1],"format":".2f","minExtent":55,"maxExtent":55,"gridColor":{"condition":{"test":"datum.value === 0","value":"#555555"},"value":"#b0b0b0"},"gridWidth":{"condition":{"test":"datum.value === 0","value":1.4},"value":1}}},"y2":{"field":"hi"}}},
{"data":{"name":"series"},"transform":[{"filter":"datum.p == 'o'"}],"mark":{"type":"line","color":"#e8a202","strokeWidth":1.2,"clip":true},"encoding":{"x":{"field":"x","type":"quantitative","title":"Layer"},"y":{"field":"m","type":"quantitative","title":"Δcℓ (cp)"}}}]}
]}
],
"config":{
"font":"Liberation Serif",
"view":{"stroke":null},
"axis":{"domain":false,"grid":true,"gridColor":"#b0b0b0","gridDash":[5,3],"gridWidth":1,"tickColor":"#000000","tickSize":7,"tickWidth":1.2,"labelFont":"Liberation Serif","labelFontSize":18,"labelColor":"#111111","labelPadding":5,"labelFlush":false,"labelOverlap":false,"titleFont":"Liberation Serif","titleFontSize":22,"titleFontWeight":"normal","titleColor":"#111111"},
"axisX":{"titlePadding":5,"labelPadding":7},
"axisY":{"titlePadding":2},
"title":{"font":"Liberation Serif","fontSize":24,"fontWeight":"normal","color":"#111111","frame":"bounds","anchor":"middle","baseline":"bottom"}
}
}
